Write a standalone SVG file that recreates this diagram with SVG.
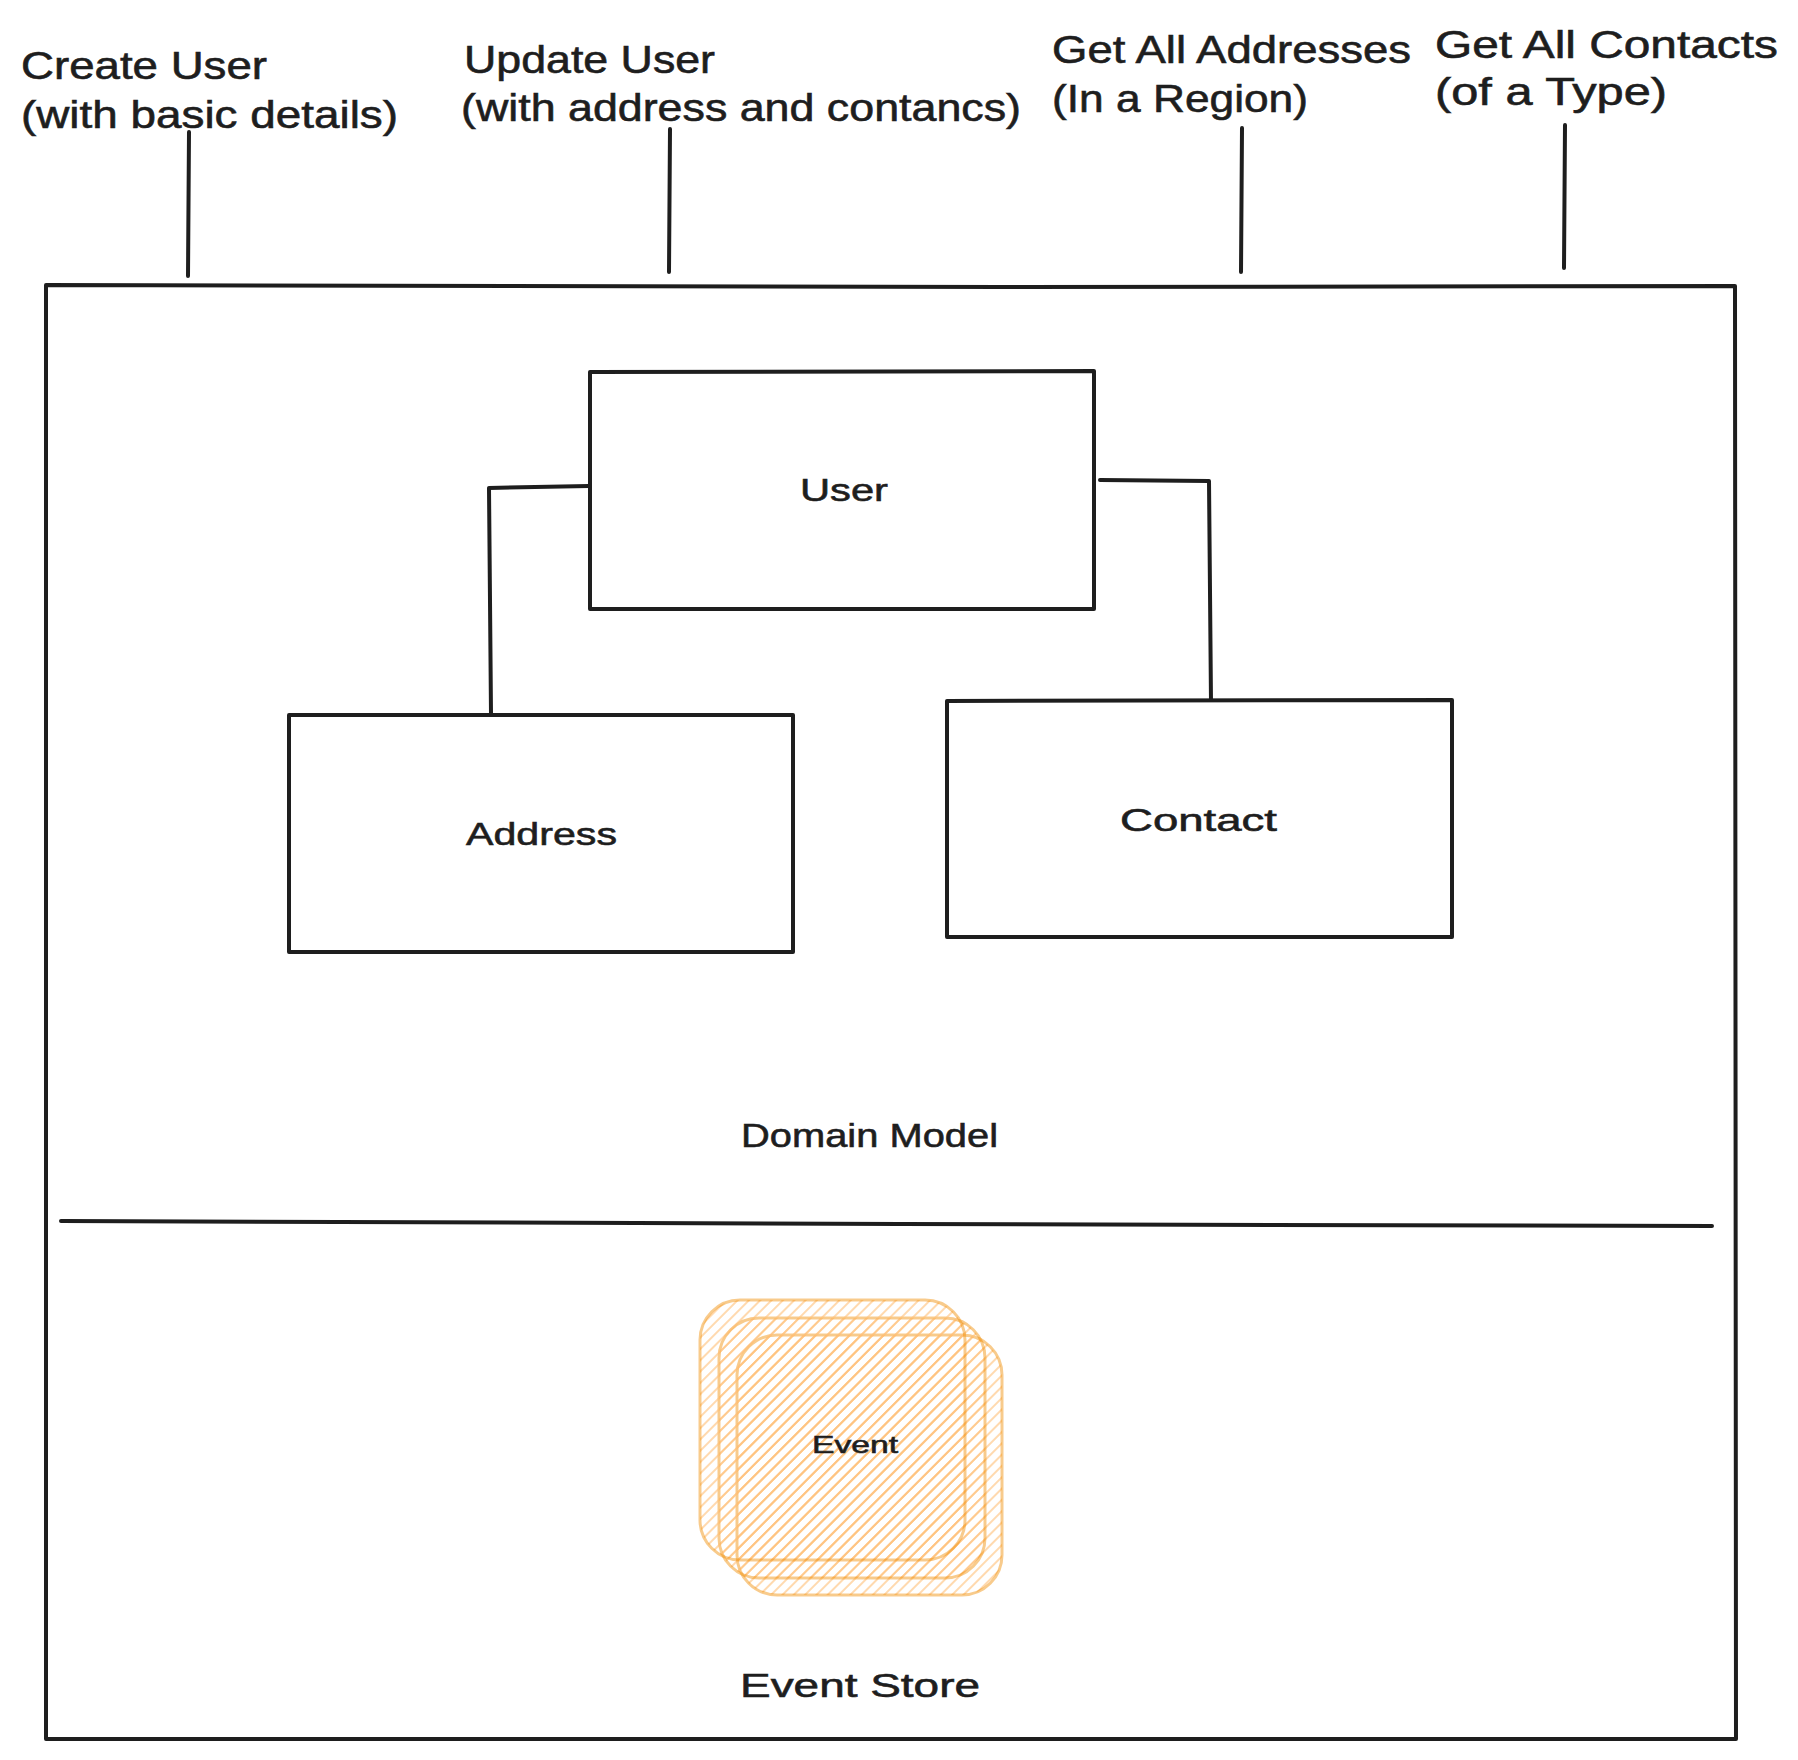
<svg xmlns="http://www.w3.org/2000/svg" width="1798" height="1760" viewBox="0 0 1798 1760">
<defs>
<pattern id="hatch" width="8" height="8" patternUnits="userSpaceOnUse" patternTransform="rotate(45)">
<line x1="1" y1="0" x2="1" y2="8" stroke="#ffc078" stroke-opacity="0.85" stroke-width="1.4"/>
</pattern>
<style>
.ln{fill:none;stroke:#1e1e1e;stroke-width:4;stroke-linecap:round;stroke-linejoin:round}
.bx{fill:#ffffff;stroke:#1e1e1e;stroke-width:4;stroke-linejoin:round}
.t{font-family:"Liberation Sans",Arial,sans-serif;fill:#1e1e1e;stroke:#1e1e1e;stroke-width:0.6}
.lab{font-size:38px}
.nd{font-size:32px}
.big{font-size:34px}
.ev{fill:url(#hatch);stroke:#f08c00;stroke-opacity:0.45;stroke-width:3}
</style>
</defs>
<rect width="1798" height="1760" fill="#ffffff"/>

<g id="container">
<path class="ln" d="M46 285 L1000 287 L1735 286 L1736 1739 L46 1739 Z"/>
<path class="ln" d="M61 1221 L900 1224 L1712 1226"/>
<text class="t big" x="741" y="1147" textLength="257" lengthAdjust="spacingAndGlyphs">Domain Model</text>
<text class="t big" x="740" y="1697" textLength="240" lengthAdjust="spacingAndGlyphs">Event Store</text>
</g>

<g id="labels">
<text class="t lab" x="21" y="79" textLength="246" lengthAdjust="spacingAndGlyphs">Create User</text>
<text class="t lab" x="21" y="128" textLength="377" lengthAdjust="spacingAndGlyphs">(with basic details)</text>
<text class="t lab" x="464" y="73" textLength="251" lengthAdjust="spacingAndGlyphs">Update User</text>
<text class="t lab" x="461" y="121" textLength="560" lengthAdjust="spacingAndGlyphs">(with address and contancs)</text>
<text class="t lab" x="1052" y="63" textLength="359" lengthAdjust="spacingAndGlyphs">Get All Addresses</text>
<text class="t lab" x="1052" y="112" textLength="256" lengthAdjust="spacingAndGlyphs">(In a Region)</text>
<text class="t lab" x="1435" y="58" textLength="343" lengthAdjust="spacingAndGlyphs">Get All Contacts</text>
<text class="t lab" x="1435" y="105" textLength="232" lengthAdjust="spacingAndGlyphs">(of a Type)</text>
</g>

<g id="connectors">
<path class="ln" d="M189 132 L188 276"/>
<path class="ln" d="M670 129 L669 272"/>
<path class="ln" d="M1242 128 L1241 272"/>
<path class="ln" d="M1565 125 L1564 268"/>
<path class="ln" d="M589 486 L489 488 L491 713"/>
<path class="ln" d="M1100 480 L1209 481 L1211 702"/>
</g>

<g id="user">
<path class="bx" d="M590 372 L1094 371 L1094 609 L590 609 Z"/>
<text class="t nd" x="800" y="501" textLength="88" lengthAdjust="spacingAndGlyphs">User</text>
</g>

<g id="address">
<path class="bx" d="M289 715 L793 715 L793 952 L289 952 Z"/>
<text class="t nd" x="466" y="845" textLength="151" lengthAdjust="spacingAndGlyphs">Address</text>
</g>

<g id="contact">
<path class="bx" d="M947 701 L1452 700 L1452 937 L947 937 Z"/>
<text class="t nd" x="1120" y="831" textLength="157" lengthAdjust="spacingAndGlyphs">Contact</text>
</g>

<g id="event">
<rect class="ev" x="737" y="1335" width="265" height="260" rx="40"/>
<rect class="ev" x="719" y="1318" width="266" height="260" rx="40"/>
<rect class="ev" x="700" y="1300" width="265" height="260" rx="40" stroke-opacity="0.6"/>
<text class="t" x="812" y="1453" font-size="24" textLength="86" lengthAdjust="spacingAndGlyphs">Event</text>
</g>
</svg>
